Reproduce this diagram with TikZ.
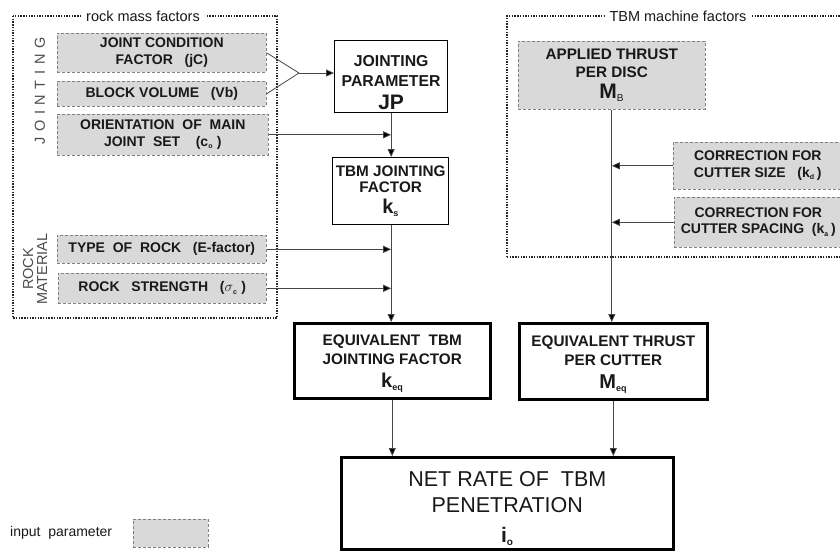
\documentclass[tikz,border=0pt]{standalone}
\usepackage{fontspec}
\setmainfont{Liberation Sans}
\usetikzlibrary{arrows.meta}
\definecolor{boxgray}{RGB}{217,217,217}
\definecolor{linegray}{RGB}{70,70,70}
\definecolor{txt}{RGB}{25,25,25}
\newcommand{\bigsym}[2]{{\fontsize{20}{20}\selectfont\bfseries #1\textsubscript{\fontsize{9}{9}\selectfont #2}}}
\begin{document}
\begin{tikzpicture}[x=1pt,y=-1pt,
  inp/.style={draw=gray, densely dashed, line width=0.6pt, fill=boxgray, align=center,
    inner sep=0pt, anchor=north west, text=txt, font=\bfseries\fontsize{14}{16.5}\selectfont},
  wbox/.style={draw=black, line width=1.3pt, fill=white, align=center, inner sep=0pt,
    anchor=north west, text=txt, font=\bfseries\fontsize{15.3}{19}\selectfont},
  tbox/.style={wbox, line width=2.6pt},
  frame/.style={draw=black!85, line width=1.4pt, dash pattern=on 1.4pt off 1.3pt},
  ftitle/.style={fill=white, inner xsep=5pt, inner ysep=2pt, text=txt, font=\fontsize{14.5}{17}\selectfont},
  side/.style={text=black!70, font=\fontsize{14.5}{15}\selectfont, align=center, rotate=90, inner sep=0pt},
  conn/.style={draw=linegray, line width=0.8pt},
  arr/.style={conn, -{Triangle[length=8pt,width=7pt,fill=black]}}
]
\useasboundingbox (0,0) rectangle (840,550);

% frames
\draw[frame] (13,16) rectangle (277,318);
\node[ftitle] (t1) at (143,16) {rock mass factors};
\draw[frame] (507,257) -- (507,16) -- (860,16);
\draw[frame] (507,257) -- (860,257);
\node[ftitle] (t2) at (678,16) {TBM machine factors};

% side labels
\node[side] (jnt) at (40,91) {J\kern5.6pt O\kern5.6pt I\kern5.6pt N\kern5.6pt T\kern5.6pt I\kern5.6pt N\kern5.6pt G};
\node[side] (rm) at (35,269) {ROCK\\[-1pt]MATERIAL};

% input parameters
\node[inp, minimum width=209pt, minimum height=39pt] (jc) at (57,33) {JOINT CONDITION\\FACTOR~~~(jC)};
\node[inp, minimum width=209pt, minimum height=25pt] (bv) at (57,81) {BLOCK VOLUME~~~(Vb)};
\node[inp, minimum width=211pt, minimum height=41pt] (or) at (57,114) {ORIENTATION~~OF~~MAIN\\JOINT~~SET~~~~(c\textsubscript{\fontsize{7}{7}\selectfont o}~)};
\node[inp, minimum width=209pt, minimum height=28pt] (tr) at (57,235) {TYPE~~OF~~ROCK~~~(E-factor)};
\node[inp, minimum width=208pt, minimum height=30pt] (rs) at (58,273) {ROCK~~~STRENGTH~~~($\sigma$\textsubscript{\fontsize{7}{7}\selectfont c}~)};

\node[inp, font=\bfseries\fontsize{15.3}{17.5}\selectfont, minimum width=187pt, minimum height=68pt] (mb) at (518,41)
  {APPLIED THRUST\\PER DISC\\[4pt]{\fontsize{21}{21}\selectfont M\textsubscript{\mdseries\fontsize{10}{10}\selectfont B}}};
\node[inp, minimum width=169pt, minimum height=47pt] (cs) at (673,142) {CORRECTION FOR\\CUTTER SIZE~~~(k\textsubscript{\fontsize{7}{7}\selectfont d}\,)};
\node[inp, minimum width=168pt, minimum height=50pt] (csp) at (674,197) {CORRECTION FOR\\CUTTER SPACING~~(k\textsubscript{\fontsize{7}{7}\selectfont a}\,)};

% computed boxes
\node[wbox, font=\bfseries\fontsize{15.8}{20}\selectfont, minimum width=113pt, minimum height=72pt] (jp) at (334,40)
  {\rule{0pt}{22pt}JOINTING\\PARAMETER\\[3pt]{\fontsize{21}{21}\selectfont JP}};
\node[wbox, font=\bfseries\fontsize{15.3}{16.5}\selectfont, minimum width=116pt, minimum height=67pt] (ks) at (332,157)
  {TBM JOINTING\\FACTOR\\[4pt]\bigsym{k}{s}};
\node[tbox, minimum width=196pt, minimum height=75pt] (keq) at (293,322)
  {\rule{0pt}{17pt}EQUIVALENT~~TBM\\JOINTING FACTOR\\[4pt]\bigsym{k}{eq}};
\node[tbox, minimum width=188pt, minimum height=76pt] (meq) at (518,322)
  {\rule{0pt}{17pt}EQUIVALENT THRUST\\PER CUTTER\\[4pt]\bigsym{M}{eq}};
\node[tbox, font=\fontsize{21.5}{26}\selectfont, minimum width=332pt, minimum height=92pt] (net) at (340,456)
  {\rule{0pt}{25pt}NET RATE OF~~TBM\\PENETRATION\\[4pt]{\bfseries\fontsize{21}{21}\selectfont i\textsubscript{\fontsize{10}{10}\selectfont o}}};

% legend
\node[anchor=west, inner sep=0pt, text=txt, font=\fontsize{14}{16}\selectfont] (leg) at (10,533) {input~~parameter};
\node[inp, minimum width=75pt, minimum height=28pt] (legbox) at (133,519) {};

% connectors
\coordinate (apex) at (299,73);
\draw[conn] (jc.east) -- (apex);
\draw[conn] (bv.east) -- (apex);
\draw[arr] (apex) -- (apex -| jp.west);
\draw[arr] (jp.south) -- (jp.south |- ks.north);
\draw[arr] (or.east) -- (or.east -| jp.south);
\draw[arr] (ks.south -| jp.south) -- (jp.south |- keq.north);
\draw[arr] (tr.east) -- (tr.east -| jp.south);
\draw[arr] (rs.east) -- (rs.east -| jp.south);
\draw[arr] (mb.south) -- (mb.south |- meq.north);
\draw[arr] (cs.west) -- (cs.west -| mb.south);
\draw[arr] (csp.west) -- (csp.west -| mb.south);
\draw[arr] (keq.south) -- (keq.south |- net.north);
\draw[arr] (meq.south) -- (meq.south |- net.north);
\end{tikzpicture}
\end{document}
